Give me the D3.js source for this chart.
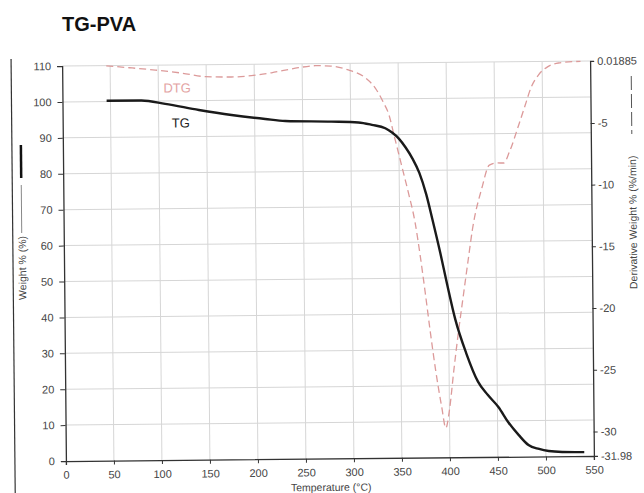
<!DOCTYPE html>
<html>
<head>
<meta charset="utf-8">
<script src="https://cdn.jsdelivr.net/npm/d3@7/dist/d3.min.js"></script>
<style>
  body { margin: 0; background: #fff; }
  text { font-family: "Liberation Sans", Arial, sans-serif; }
</style>
</head>
<body>
<script>
var width = 644, height = 493;

// TG curve: temperature (°C) / weight (%)
var tgTemp   = [46, 82, 107, 142, 176, 211, 232, 280, 308, 322, 336, 343, 350, 357, 364, 371, 378, 384, 392, 399, 407, 418, 430, 440, 451, 461, 472, 482, 493, 503, 517, 540];
var tgWeight = [100.2, 100.2, 99.2, 97.4, 95.9, 94.7, 94.1, 93.8, 93.5, 92.8, 91.8, 90.6, 88.9, 86.4, 83.3, 79.3, 73.3, 66.5, 57.0, 48.0, 38.4, 29.0, 21.0, 17.3, 13.9, 9.7, 6.0, 3.2, 2.1, 1.5, 1.2, 1.1];

// DTG curve: temperature (°C) / derivative weight (%/min)
var dtgTemp = [46, 70, 97, 124, 149, 176, 197, 218, 246, 264, 280, 298, 316, 326, 334, 340, 345, 350, 355, 360, 366, 371, 376, 381, 386, 392, 396, 400, 405, 410, 416, 421, 426, 436, 444, 452, 459, 465, 475, 482, 488, 496, 506, 517, 540];
var dtgRate = [0.0, -0.17, -0.38, -0.64, -0.95, -1.00, -0.91, -0.69, -0.30, -0.15, -0.19, -0.52, -1.19, -2.01, -3.14, -4.20, -5.83, -7.45, -9.07, -10.70, -12.89, -15.57, -18.65, -21.90, -24.90, -27.9, -29.6, -28.15, -24.92, -21.92, -18.68, -16.01, -13.42, -10.19, -8.34, -8.17, -8.18, -7.29, -5.11, -3.50, -2.13, -1.08, -0.41, -0.12, 0.0];

// tick labels
var xTicks  = [0, 50, 100, 150, 200, 250, 300, 350, 400, 450, 500, 550];
var yTicks  = [0, 10, 20, 30, 40, 50, 60, 70, 80, 90, 100, 110];
var y2Ticks = [0.01885, -5, -10, -15, -20, -25, -30, -31.98];

var dtgColor = "#dc9a9a";

var svg = d3.select("body")
            .append("svg")
            .attr("width", width)
            .attr("height", height);

svg.append("text")
   .attr("x", 62)
   .attr("y", 31)
   .attr("font-size", 20)
   .attr("font-weight", "bold")
   .attr("fill", "#111")
   .text("TG-PVA");

// the scanned chart is slightly tilted
var chart = svg.append("g")
               .attr("transform", "rotate(-0.55 328 260)");

var x = d3.scaleLinear().domain([0, 550]).range([64, 592]);
var y = d3.scaleLinear().domain([0, 110]).range([458.5, 63.5]);
var y2 = d3.scaleLinear().domain([-31.98, 0.01885]).range([458.5, 63.5]);

// page border line of the scan
chart.append("line")
     .attr("x1", 13).attr("x2", 13)
     .attr("y1", 56).attr("y2", 500)
     .attr("stroke", "#333")
     .attr("stroke-width", 1.2);

// grid
chart.append("g")
     .selectAll("line")
     .data(xTicks.filter(function(d) { return d > 0 && d < 550; }))
     .enter()
     .append("line")
     .attr("x1", function(d) { return x(d); })
     .attr("x2", function(d) { return x(d); })
     .attr("y1", y(110))
     .attr("y2", y(0))
     .attr("stroke", "#d6d6d6")
     .attr("stroke-width", 1);

chart.append("g")
     .selectAll("line")
     .data(yTicks.filter(function(d) { return d > 0; }))
     .enter()
     .append("line")
     .attr("x1", x(0))
     .attr("x2", x(550))
     .attr("y1", function(d) { return y(d); })
     .attr("y2", function(d) { return y(d); })
     .attr("stroke", "#d6d6d6")
     .attr("stroke-width", 1);

// axes
var xAxis = chart.append("g")
                 .attr("transform", "translate(0," + y(0) + ")")
                 .call(d3.axisBottom(x).tickValues(xTicks).tickSize(4).tickPadding(6).tickFormat(String));

var yAxis = chart.append("g")
                 .attr("transform", "translate(" + x(0) + ",0)")
                 .call(d3.axisLeft(y).tickValues(yTicks).tickSize(5).tickPadding(6).tickFormat(String));

var y2Axis = chart.append("g")
                  .attr("transform", "translate(" + x(550) + ",0)")
                  .call(d3.axisRight(y2).tickValues(y2Ticks).tickSize(4).tickPadding(3).tickFormat(String));

[xAxis, yAxis, y2Axis].forEach(function(a) {
  a.select(".domain").attr("stroke", "#333").attr("stroke-width", 1.3);
  a.selectAll(".tick line").attr("stroke", "#333");
  a.selectAll(".tick text")
   .attr("fill", "#444")
   .attr("font-size", 11)
   .attr("font-family", "'Liberation Sans', Arial, sans-serif");
});

// DTG curve
var dtgLine = d3.line()
                .x(function(d, i) { return x(dtgTemp[i]); })
                .y(function(d) { return y2(d); })
                .curve(d3.curveMonotoneX);

chart.append("path")
     .attr("d", dtgLine(dtgRate))
     .attr("fill", "none")
     .attr("stroke", dtgColor)
     .attr("stroke-width", 1.3)
     .attr("stroke-dasharray", "7,4");

// TG curve
var tgLine = d3.line()
               .x(function(d, i) { return x(tgTemp[i]); })
               .y(function(d) { return y(d); })
               .curve(d3.curveMonotoneX);

chart.append("path")
     .attr("d", tgLine(tgWeight))
     .attr("fill", "none")
     .attr("stroke", "#1a1a1a")
     .attr("stroke-width", 2.4);

// curve labels
chart.append("text")
     .attr("x", 165).attr("y", 91)
     .attr("font-size", 13)
     .attr("fill", "#e3a4a4")
     .text("DTG");

chart.append("text")
     .attr("x", 173).attr("y", 126)
     .attr("font-size", 13)
     .attr("fill", "#222")
     .text("TG");

// left axis title with its legend line
chart.append("line")
     .attr("x1", 22).attr("x2", 22)
     .attr("y1", 142).attr("y2", 175)
     .attr("stroke", "#111")
     .attr("stroke-width", 2.5);

chart.append("line")
     .attr("x1", 22).attr("x2", 22)
     .attr("y1", 182).attr("y2", 230)
     .attr("stroke", "#888")
     .attr("stroke-width", 1);

chart.append("text")
     .attr("transform", "translate(26,297) rotate(-90)")
     .attr("font-size", 10.5)
     .attr("fill", "#444")
     .text("Weight % (%)");

// right axis title with its legend line
chart.append("text")
     .attr("transform", "translate(637,292) rotate(-90)")
     .attr("font-size", 10.5)
     .attr("fill", "#444")
     .text("Derivative Weight % (%/min)");

chart.append("line")
     .attr("x1", 633).attr("x2", 633)
     .attr("y1", 79).attr("y2", 137)
     .attr("stroke", "#555")
     .attr("stroke-width", 1)
     .attr("stroke-dasharray", "14,4");

// x axis title
chart.append("text")
     .attr("x", 329).attr("y", 491)
     .attr("text-anchor", "middle")
     .attr("font-size", 10.5)
     .attr("fill", "#444")
     .text("Temperature (°C)");
</script>
</body>
</html>
